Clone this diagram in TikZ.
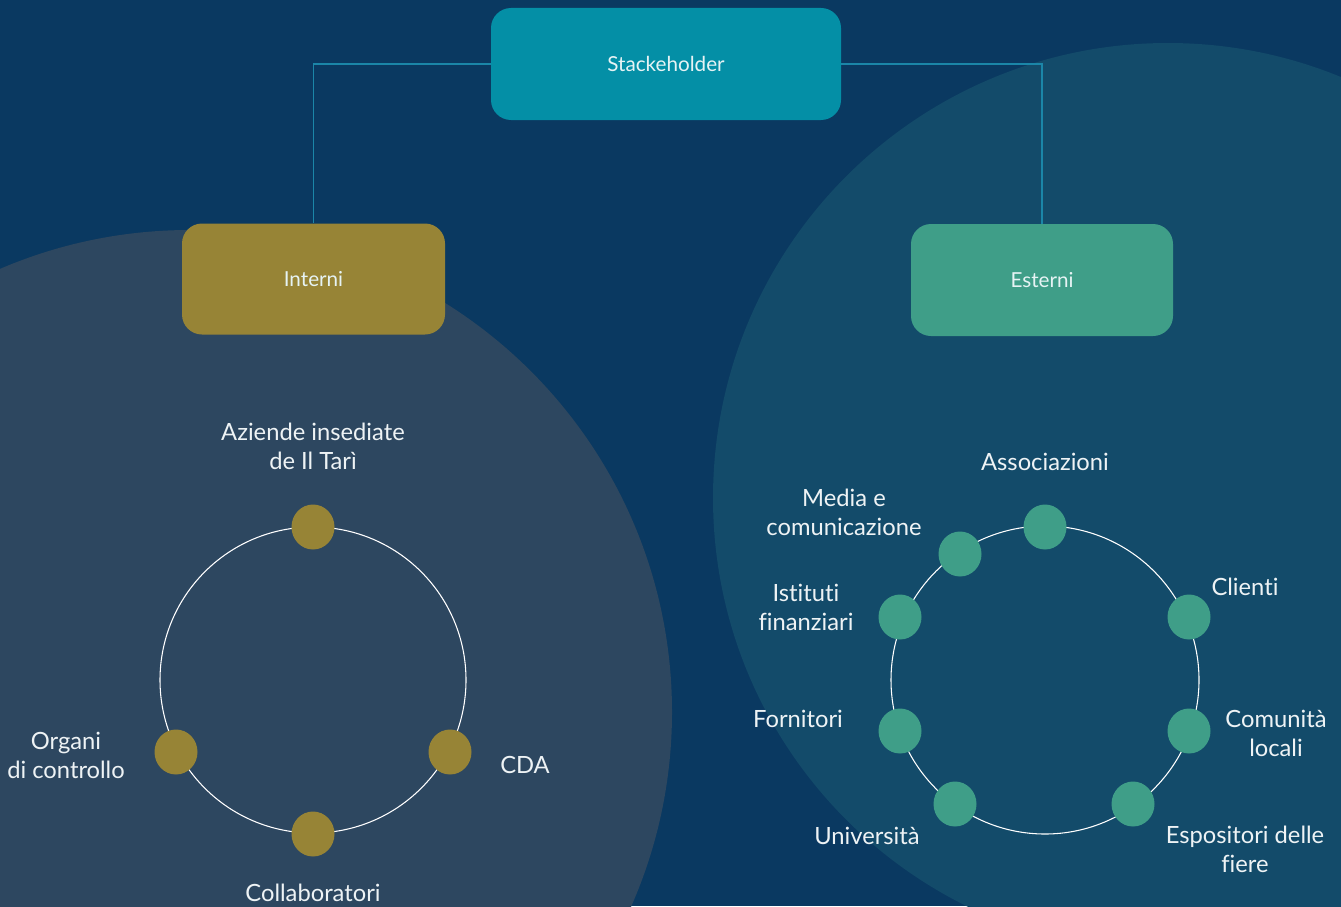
\documentclass[tikz,border=0pt]{standalone}
\usepackage{fontspec}
\setmainfont{Lato}[Ligatures={NoCommon}]
\usetikzlibrary{shapes.geometric}
\definecolor{bg}{HTML}{0A3961}
\definecolor{leftbg}{HTML}{2D4760}
\definecolor{rightbg}{HTML}{134B6A}
\definecolor{topbox}{HTML}{048FA6}
\definecolor{gold}{HTML}{978436}
\definecolor{green}{HTML}{3F9E88}
\definecolor{conn}{HTML}{1B86A8}
\definecolor{txt}{HTML}{EEF3F5}
\definecolor{boxtxt}{HTML}{E6F3F4}
\tikzset{
  box/.style={rounded corners=15pt, inner sep=0pt, text=boxtxt, font=\fontsize{15.5}{18}\selectfont},
  gdot/.style={ellipse, fill=gold, minimum width=32.25pt, minimum height=33.75pt, inner sep=0pt},
  edot/.style={ellipse, fill=green, minimum width=32.25pt, minimum height=33.75pt, inner sep=0pt},
  ring/.style={draw=white, line width=0.8pt},
  lbl/.style={text=txt, align=center, inner sep=0pt, font=\fontsize{17.8}{21.75}\selectfont},
  link/.style={draw=conn, line width=0.8pt}
}
\begin{document}
\begin{tikzpicture}[x=0.75pt,y=-0.75pt]
\useasboundingbox (0,0) rectangle (1341,906);
\clip (0,0) rectangle (1341,906);
\fill[bg] (0,0) rectangle (1341,906);
\fill[leftbg] (190,712) circle (482);
\fill[rightbg] (1168,498) circle (455);

% boxes
\node[box, fill=topbox, minimum width=262.5pt, minimum height=84pt] (stk) at (666,64) {Stackeholder};
\node[box, fill=gold, minimum width=197.25pt, minimum height=83.25pt] (int) at (313.5,279) {Interni};
\node[box, fill=green, minimum width=196.5pt, minimum height=84pt] (est) at (1042,280) {Esterni};

\draw[link] (stk.west) -| (int.north);
\draw[link] (stk.east) -| (est.north);

% left ring
\coordinate (lc) at (313,680);
\draw[ring] (lc) circle (153);
\node[gdot] (l1) at (313,527) {};
\node[gdot] (l2) at (450,752) {};
\node[gdot] (l3) at (313,834) {};
\node[gdot] (l4) at (176,752) {};

\node[lbl] (t1) at (313,446) {Aziende insediate\\de Il Tarì};
\node[lbl] (t2) at (525,765) {CDA};
\node[lbl] (t3) at (313,893) {Collaboratori};
\node[lbl] (t4) at (66,755) {Organi\\di controllo};

% right ring
\coordinate (rc) at (1045,680);
\draw[ring] (rc) circle (154);
\node[edot] (r1) at (1045,527) {};
\node[edot] (r2) at (1189,617) {};
\node[edot] (r3) at (1189,731) {};
\node[edot] (r4) at (1133,804) {};
\node[edot] (r5) at (955,804) {};
\node[edot] (r6) at (900,731) {};
\node[edot] (r7) at (900,617) {};
\node[edot] (r8) at (960,554) {};

\node[lbl] (s1) at (1045,462) {Associazioni};
\node[lbl] (s2) at (1245,587) {Clienti};
\node[lbl] (s3) at (1276,733) {Comunità\\locali};
\node[lbl] (s4) at (1245,849) {Espositori delle\\fiere};
\node[lbl] (s5) at (867,836) {Università};
\node[lbl] (s6) at (798,719) {Fornitori};
\node[lbl] (s7) at (806,607) {Istituti\\finanziari};
\node[lbl] (s8) at (844,512) {Media e\\comunicazione};
\end{tikzpicture}
\end{document}
